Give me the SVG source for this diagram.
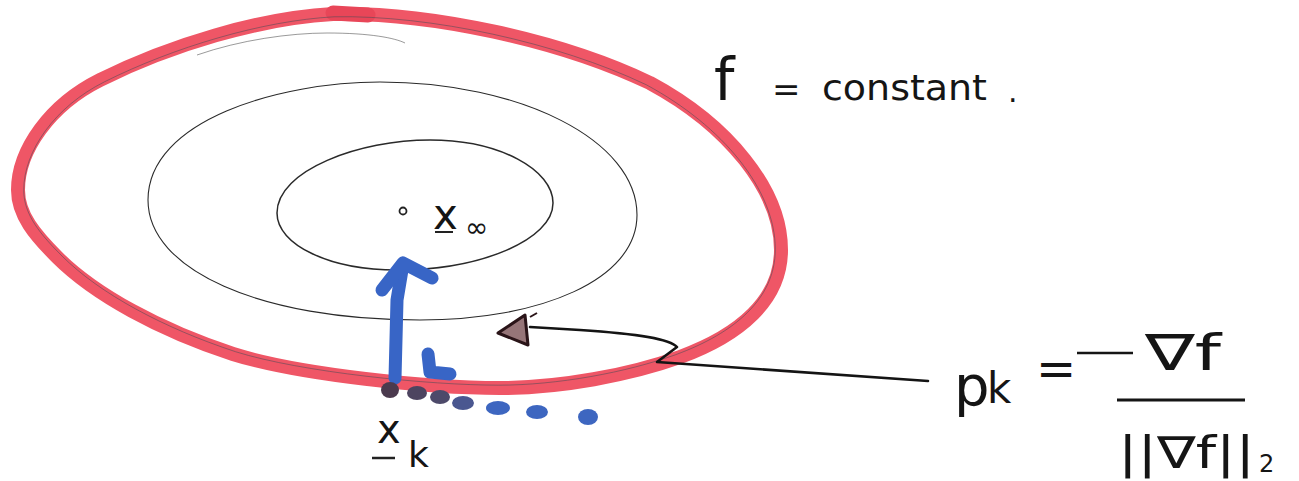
<svg xmlns="http://www.w3.org/2000/svg" width="1299" height="481" viewBox="0 0 1299 481">
<style>
.hand{font-family:"DejaVu Sans","Liberation Sans",sans-serif;fill:#151515}
.contour{fill:none;stroke:#2a2a2a}
.blue{fill:none;stroke:#3865c6;stroke-width:13;stroke-linecap:round;stroke-linejoin:round}
.ink{fill:none;stroke:#141414;stroke-width:2.6;stroke-linecap:round;stroke-linejoin:round}
</style>
<rect width="1299" height="481" fill="#ffffff"/>
<g id="outer-contour">
<path d="M333,14 C430,12 560,40 650,83 C728,125 781,190 781,250 C781,300 740,335 680,357 C630,375 560,388 500,388 C430,388 300,375 233,354 C160,330 95,295 57,257 C35,235 18,215 18,190 C18,150 50,105 100,80 C170,45 260,18 333,14 Z" fill="none" stroke="#ef5666" stroke-width="14" stroke-linejoin="round"/>
<path d="M333,13 L368,15" stroke="#e84658" stroke-width="15" stroke-linecap="round" fill="none"/>
<path d="M333,14 C430,12 560,40 650,83 C728,125 781,190 781,250 C781,300 740,335 680,357 C630,375 560,388 500,388 C430,388 300,375 233,354 C160,330 95,295 57,257 C35,235 18,215 18,190 C18,150 50,105 100,80 C170,45 260,18 333,14 Z" fill="none" stroke="#4a4a55" stroke-width="1" opacity="0.55" transform="translate(400,200) scale(0.985) translate(-400,-200)"/>
</g>
<g id="middle-contour">
<path class="contour" stroke-width="1.1" d="M148,200 C148,120 280,82 380,82 C520,82 637,140 637,215 C637,280 540,320 420,320 C260,320 148,270 148,200 Z"/>
<path class="contour" stroke-width="0.8" opacity="0.6" d="M197,55 C240,40 290,33 327,33 C370,33 395,38 405,43"/>
</g>
<g id="inner-contour">
<path class="contour" stroke-width="1.5" d="M277,213 C277,170 360,140 430,140 C500,140 553,170 553,203 C553,240 480,270 397,270 C330,270 277,245 277,213 Z"/>
</g>
<g id="optimum">
<circle cx="403" cy="211" r="3.5" fill="none" stroke="#222" stroke-width="1.8"/>
<text class="hand" x="433" y="229" font-size="42">x</text>
<line x1="435" y1="232" x2="453" y2="232" stroke="#222" stroke-width="2"/>
<text class="hand" x="465" y="237" font-size="28" fill="#3a2530">∞</text>
</g>
<g id="step-direction">
<path class="blue" d="M395,378 L397,300 L403,264"/>
<path class="blue" d="M382,290 L403,263 L432,278"/>
<path class="blue" d="M428,354 L430,372 L450,374"/>
</g>
<g id="line-search-dots">
<ellipse cx="390" cy="390" rx="9" ry="8" fill="#4b3a4e"/>
<ellipse cx="417" cy="393" rx="10" ry="7" fill="#4d4460"/>
<ellipse cx="440" cy="397" rx="10" ry="7" fill="#4d4a6a"/>
<ellipse cx="463" cy="403" rx="11" ry="7" fill="#4a5790"/>
<ellipse cx="498" cy="408" rx="12" ry="7" fill="#3d66c0"/>
<ellipse cx="537" cy="412" rx="11" ry="7" fill="#3d66c0"/>
<ellipse cx="588" cy="417" rx="10" ry="8" fill="#3d66c0"/>
</g>
<g id="xk-label">
<text class="hand" x="377" y="443" font-size="40">x</text>
<line x1="372" y1="458" x2="395" y2="458" stroke="#222" stroke-width="2.5"/>
<text class="hand" x="408" y="467" font-size="36">k</text>
</g>
<g id="connectors">
<path class="ink" d="M928,381 L657,362 L677,347 C670,339 640,334 580,330 L530,327"/>
<path d="M498,333 L525,315 L528,345 Z" fill="#6a3a3e" fill-opacity="0.7" stroke="#2a1418" stroke-width="3" stroke-linejoin="round"/>
<path d="M530,317 L537,313" stroke="#2a1418" stroke-width="2" fill="none"/>
</g>
<g id="title-label">
<text class="hand" x="714" y="100" font-size="58">f</text>
<text class="hand" x="772" y="101" font-size="34">=</text>
<text class="hand" x="822" y="100" font-size="36" textLength="165" lengthAdjust="spacingAndGlyphs">constant</text>
<text class="hand" x="1008" y="102" font-size="30">.</text>
</g>
<g id="formula">
<text class="hand" x="954" y="405" font-size="56">p</text>
<text class="hand" x="987" y="403" font-size="42">k</text>
<text class="hand" x="1036" y="385" font-size="48">=</text>
<line x1="1077" y1="353" x2="1133" y2="353" stroke="#151515" stroke-width="2.6"/>
<text class="hand" x="1145" y="370" font-size="50" textLength="76" lengthAdjust="spacingAndGlyphs">∇f</text>
<line x1="1117" y1="400" x2="1245" y2="400" stroke="#151515" stroke-width="2.8"/>
<text class="hand" x="1118" y="468" font-size="44" textLength="137" lengthAdjust="spacingAndGlyphs">||∇f||</text>
<text class="hand" x="1259" y="472" font-size="24">2</text>
</g>
</svg>
